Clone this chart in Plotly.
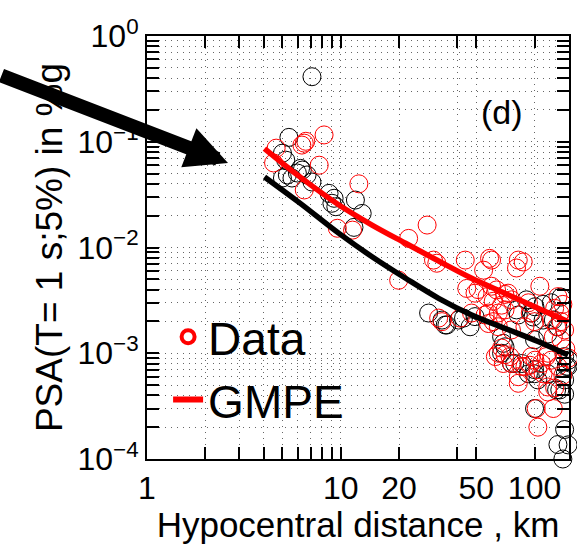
import numpy as np
import plotly.graph_objects as go

# ---------------- data ----------------
black_x = [7.10, 5.4, 5.0, 5.2, 6.2, 5.0, 5.3, 5.6, 5.97, 6.33, 6.7, 7.1,
           8.7, 9.24, 9.0, 9.43, 11.9, 12.9, 11.7,
           28.4, 33.3, 35.3, 40.5, 49.3, 43.0, 46.5, 34.6,
           80.7, 90.8, 98.3, 110.7, 100.5, 110.7, 125.0, 82.4, 96.4, 137.0, 122.0,
           67.6, 70.4, 69.0, 67.6, 100.0,
           79.0, 93.0, 100.0, 117.0, 76.0, 86.0,
           130.0, 143.0, 149.0, 143.0,
           100.0, 143.0, 149.0, 140.0, 132.0,
           117.0, 132.0, 100.0, 104.0, 135.0, 143.0, 146.0, 150.0]
black_y = [0.412, 0.11, 0.078, 0.067, 0.056, 0.0454, 0.0485, 0.0454, 0.0506, 0.054, 0.0485, 0.0416,
           0.0325, 0.0292, 0.0262, 0.0243, 0.0281, 0.021, 0.0155,
           0.0024, 0.00206, 0.00185, 0.00206, 0.00222, 0.00215, 0.00178, 0.00185,
           0.00257, 0.0032, 0.0022, 0.00206, 0.00275, 0.0029, 0.00206, 0.0023, 0.0024, 0.0034, 0.003,
           0.00143, 0.00115, 0.00124, 0.001, 0.00134,
           0.0008, 0.00064, 0.0007, 0.00064, 0.0008, 0.0008,
           0.00045, 0.00056, 0.00075, 0.00093,
           0.0003, 0.00019, 0.000136, 0.0001, 0.000137,
           0.00152, 0.00178, 0.00064, 0.00056, 0.00045, 0.00041, 0.00075, 0.00086]

red_x = [8.2, 6.48, 6.3, 6.6, 4.64, 7.74, 4.5,
         6.48, 12.4, 9.6, 11.5,
         27.9, 22.4, 30.1, 31.3, 19.9, 43.9, 60.0, 54.6, 82.4, 87.4, 80.7, 106.5,
         44.7, 49.3, 60.0, 63.7, 56.9, 70.3, 61.2, 67.6, 76.0, 58.6,
         32.0, 33.3, 41.3, 55.6, 61.2, 65.0, 76.0, 93.0, 100.0, 89.2, 47.3,
         132.0, 140.0, 127.0, 135.0, 122.0, 137.0, 130.0, 143.0, 125.0, 137.0,
         67.6, 74.7, 62.8, 51.1, 73.0, 57.8, 65.0, 70.4, 57.8, 95.0,
         65.0, 76.1, 82.4, 89.2, 96.4, 104.0, 108.5, 117.4, 122.0, 132.0,
         85.7, 94.6, 100.5, 115.0, 110.7, 70.4, 69.0,
         82.4, 117.0, 117.0, 127.0, 102.0, 125.0, 104.0,
         145.0, 150.0, 140.0]
red_y = [0.116, 0.097, 0.093, 0.101, 0.087, 0.060, 0.063,
         0.035, 0.040, 0.0152, 0.0146,
         0.0163, 0.0122, 0.0076, 0.0071, 0.0049, 0.0076, 0.0076, 0.0061, 0.0076, 0.0073, 0.0064, 0.0043,
         0.0041, 0.0037, 0.0043, 0.00397, 0.00343, 0.0036, 0.0031, 0.00285, 0.0032, 0.0079,
         0.00215, 0.00199, 0.00215, 0.0023, 0.00199, 0.00178, 0.00166, 0.003, 0.00199, 0.00178, 0.0024,
         0.00343, 0.0029, 0.00266, 0.0024, 0.00206, 0.00199, 0.00178, 0.00166, 0.00143, 0.00134,
         0.00112, 0.00093, 0.00093, 0.004, 0.0037, 0.0024, 0.0024, 0.00257, 0.00191, 0.0024,
         0.001, 0.0008, 0.0006, 0.00075, 0.00093, 0.0007, 0.0008, 0.001, 0.00086, 0.00075,
         0.00075, 0.00077, 0.00086, 0.00093, 0.00064, 0.00097, 0.0008,
         0.00052, 0.00048, 0.00043, 0.00047, 0.0003, 0.0003, 0.0002,
         0.0011, 0.0009, 0.00062]

gmpe_x = [4.04, 6.11, 9.79, 14.5, 21.6, 32.0, 47.4, 70.3, 104.2, 148.9]
gmpe_red_y = [0.0863, 0.0470, 0.0252, 0.0163, 0.01096, 0.00745, 0.00512, 0.00369, 0.00266, 0.00199]
gmpe_black_y = [0.0465, 0.0266, 0.0136, 0.00818, 0.00512, 0.00331, 0.00230, 0.00172, 0.00129, 0.00096]

# tick positions (labelled + unlabelled grid positions)
x_tickvals = [1, 2, 3, 4, 5, 6, 7, 8, 9, 10, 20, 40, 50, 100]
x_ticktext = ["1", "", "", "", "", "", "", "", "", "10", "20", "", "50", "100"]
y_decades = [-4, -3, -2, -1, 0]
y_decade_labels = ["10<sup>−4</sup>", "10<sup>−3</sup>", "10<sup>−2</sup>", "10<sup>−1</sup>", "10<sup>0</sup>"]

y_tickvals, y_ticktext = [], []
for e, lab in zip(y_decades, y_decade_labels):
    y_tickvals.append(10.0 ** e)
    y_ticktext.append(lab)
    if e < 0:
        for m in range(2, 10):
            y_tickvals.append(m * 10.0 ** e)
            y_ticktext.append("")

FONT = "Liberation Sans, Arial, Helvetica, sans-serif"

fig = go.Figure()
fig.add_trace(go.Scatter(x=black_x, y=black_y, mode="markers", showlegend=False,
                         cliponaxis=False,
                         marker=dict(symbol="circle-open", size=18, color="black",
                                     line=dict(width=1, color="black"))))
fig.add_trace(go.Scatter(x=red_x, y=red_y, mode="markers", showlegend=False,
                         cliponaxis=False,
                         marker=dict(symbol="circle-open", size=18, color="red",
                                     line=dict(width=1, color="red"))))
fig.add_trace(go.Scatter(x=gmpe_x, y=gmpe_black_y, mode="lines", showlegend=False,
                         line=dict(color="black", width=5.5, shape="spline")))
fig.add_trace(go.Scatter(x=gmpe_x, y=gmpe_red_y, mode="lines", showlegend=False,
                         line=dict(color="red", width=5.5, shape="spline")))
# legend entries
fig.add_trace(go.Scatter(x=[None], y=[None], mode="markers", name="Data",
                         marker=dict(symbol="circle-open", size=13, color="red",
                                     line=dict(width=4, color="red"))))
fig.add_trace(go.Scatter(x=[None], y=[None], mode="lines", name="GMPE",
                         line=dict(color="red", width=6)))

fig.update_xaxes(type="log", range=[0, np.log10(150.6)],
                 tickmode="array", tickvals=x_tickvals, ticktext=x_ticktext,
                 ticks="inside", ticklen=12, tickwidth=1.5, tickcolor="black",
                 showline=True, linecolor="black", linewidth=2, mirror="allticks",
                 showgrid=True, gridcolor="#666", griddash="1px,5px",
                 tickfont=dict(family=FONT, size=32, color="black"),
                 title=dict(text="Hypocentral distance , km",
                            font=dict(family=FONT, size=35, color="black"), standoff=0))
fig.update_yaxes(type="log", range=[-4, 0],
                 tickmode="array", tickvals=y_tickvals, ticktext=y_ticktext,
                 ticks="inside", ticklen=12, tickwidth=1.5, tickcolor="black",
                 showline=True, linecolor="black", linewidth=2, mirror="allticks",
                 showgrid=True, gridcolor="#666", griddash="1px,5px",
                 tickfont=dict(family=FONT, size=32, color="black"),
                 title=dict(text="PSA(T= 1 s;5%) in %g",
                            font=dict(family=FONT, size=37, color="black"), standoff=4))

fig.add_annotation(text="(d)", xref="paper", yref="paper", x=0.842, y=0.82,
                   xanchor="center", yanchor="middle",
                   showarrow=False, font=dict(family=FONT, size=34, color="black"))
fig.add_annotation(text="", xref="paper", yref="paper", x=0.192, y=0.700,
                   ax=-280, ay=-88, showarrow=True, arrowhead=2, arrowsize=0.6,
                   arrowwidth=14, arrowcolor="black", standoff=0)

fig.update_layout(
    width=577, height=544,
    margin=dict(l=147, r=6, t=36, b=85),
    paper_bgcolor="white", plot_bgcolor="white",
    showlegend=True,
    legend=dict(x=0.05, y=0.375, xanchor="left", yanchor="top",
                bgcolor="rgba(0,0,0,0)", borderwidth=0,
                font=dict(family=FONT, size=46, color="black"),
                itemwidth=30, tracegroupgap=0),
)

fig.write_html("out.html", config={"displayModeBar": False},
               post_script="document.body.style.margin='0';document.body.style.overflow='hidden';")
